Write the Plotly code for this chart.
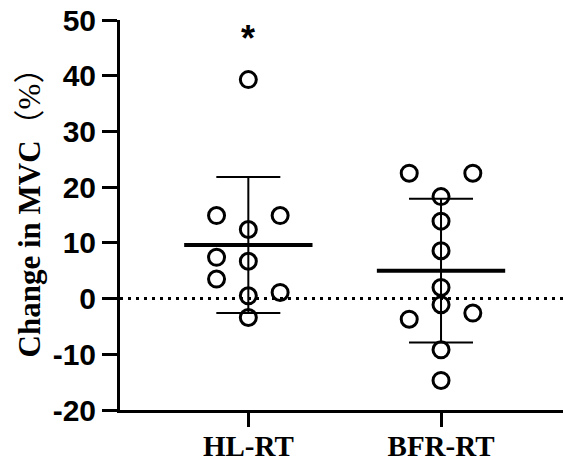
import plotly.graph_objects as go

# ---- data ----
groups = ["HL-RT", "BFR-RT"]
hl_values = [39.3, 14.9, 14.9, 12.4, 7.4, 6.7, 3.5, 0.5, 1.1, -3.4]
bfr_values = [22.5, 22.5, 18.3, 13.9, 8.6, 2.0, -1.1, -3.7, -2.6, -9.2, -14.7]
group_means = [9.6, 5.0]
group_sd = [12.2, 12.9]
y_ticks = [-20, -10, 0, 10, 20, 30, 40, 50]
y_tick_labels = ["-20", "-10", "0", "10", "20", "30", "40", "50"]
sig_label = "*"
sig_value = 47.7
reference_value = 0
y_title = "Change in MVC<span style='font-weight:normal'>（%）</span>"

# ---- layout helpers (positions / styles) ----
hl_cols = [0, -1, 1, 0, -1, 0, -1, 0, 1, 0]
bfr_cols = [-1, 1, 0, 0, 0, 0, 0, -1, 1, 0, 0]
col_step = 0.165
mean_half = 0.333
x_range = [-0.666, 1.633]

fig = go.Figure()

# dotted reference line
fig.add_trace(go.Scatter(
    x=x_range, y=[reference_value, reference_value], mode="lines",
    line=dict(color="black", width=3, dash="3px,5px"),
    hoverinfo="skip", showlegend=False, cliponaxis=False))

# error bars (mean ± SD)
fig.add_trace(go.Scatter(
    x=[0, 1], y=group_means, mode="markers",
    marker=dict(size=1, color="rgba(0,0,0,0)"),
    error_y=dict(type="data", array=group_sd, visible=True,
                 color="black", thickness=2, width=32),
    showlegend=False, hoverinfo="skip"))

# mean lines
for i, m in enumerate(group_means):
    fig.add_trace(go.Scatter(
        x=[i - mean_half, i + mean_half], y=[m, m], mode="lines",
        line=dict(color="black", width=4), showlegend=False, hoverinfo="skip"))

# individual points
for i, (vals, cols) in enumerate([(hl_values, hl_cols), (bfr_values, bfr_cols)]):
    fig.add_trace(go.Scatter(
        x=[i + c * col_step for c in cols], y=vals, mode="markers",
        marker=dict(symbol="circle-open", size=16, color="black",
                    line=dict(width=3, color="black")),
        showlegend=False, cliponaxis=False))

fig.add_annotation(
    x=0, y=sig_value, text=sig_label, showarrow=False,
    font=dict(family="Liberation Sans", size=36, color="black", weight="bold"),
    yanchor="middle", yshift=-6)

# y-axis title as rotated annotation for precise placement
fig.add_annotation(
    xref="paper", yref="paper", x=-0.205, y=0.525, text=y_title,
    textangle=-90, showarrow=False, xanchor="center", yanchor="middle",
    font=dict(family="Liberation Serif, Noto Sans CJK SC", size=31,
              color="black", weight="bold"))

fig.update_layout(
    width=565, height=461,
    margin=dict(l=120, r=2, t=20, b=51, autoexpand=False),
    paper_bgcolor="white", plot_bgcolor="white",
    xaxis=dict(
        range=x_range, tickmode="array", tickvals=[0, 1], ticktext=groups,
        showline=True, linecolor="black", linewidth=3, automargin=False,
        ticks="outside", ticklen=14, tickwidth=3, tickcolor="black",
        ticklabelstandoff=-6, ticklabeloverflow="allow",
        showgrid=False, zeroline=False,
        tickfont=dict(family="Liberation Serif", size=29, color="black", weight="bold")),
    yaxis=dict(
        range=[-20, 50], tickmode="array", tickvals=y_ticks, ticktext=y_tick_labels,
        showline=True, linecolor="black", linewidth=3, automargin=False,
        ticks="outside", ticklen=15, tickwidth=3, tickcolor="black",
        ticklabeloverflow="allow",
        showgrid=False, zeroline=False,
        tickfont=dict(family="Liberation Sans", size=30, color="black", weight="bold")),
)

# remove the default 8px page margin so the figure fills the window exactly
fig.write_html("out.html", config={"displayModeBar": False},
               post_script="document.body.style.margin='0';")
